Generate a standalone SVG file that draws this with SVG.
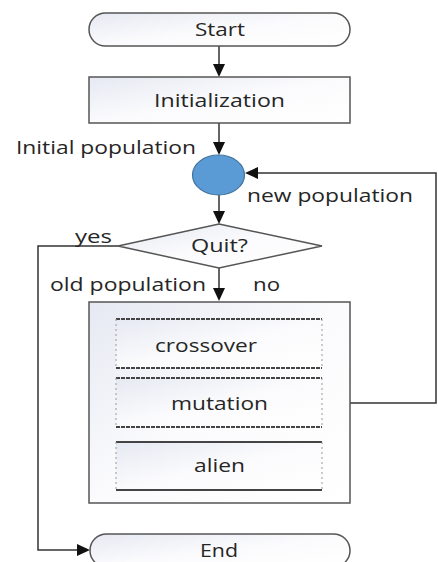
<svg xmlns="http://www.w3.org/2000/svg" width="438" height="562" viewBox="0 0 438 562">
<style>
text{font-family:"Open Sans","Noto Sans",sans-serif;font-size:18px;fill:#262626;}
.c{text-anchor:middle;dominant-baseline:central;}
.shape{stroke:#555;stroke-width:1.5;fill:url(#g);}
.ln{stroke:#333;stroke-width:1.5;fill:none;}
.ah{fill:#111;}
.tb{stroke:#444;stroke-width:2;stroke-dasharray:4 1;}
.sd{stroke:#999;stroke-width:1;stroke-dasharray:2 3;}
</style>
<defs>
<linearGradient id="g" x1="0" y1="0" x2="1" y2="1">
<stop offset="0" stop-color="#e6e9f2"/>
<stop offset="0.5" stop-color="#fbfbfd"/>
<stop offset="1" stop-color="#ffffff"/>
</linearGradient>
<path id="ad" class="ah" d="M-6,-13 L6,-13 L0,0 z"/>
<path id="ar" class="ah" d="M-13,-6 L-13,6 L0,0 z"/>
<path id="al" class="ah" d="M13,-6 L13,6 L0,0 z"/>
</defs>
<g id="connectors">
<line class="ln" x1="219" y1="46" x2="219" y2="66"/>
<use href="#ad" x="219" y="77"/>
<line class="ln" x1="219" y1="123" x2="219" y2="144"/>
<use href="#ad" x="219" y="155"/>
<line class="ln" x1="219" y1="195" x2="219" y2="213"/>
<use href="#ad" x="219" y="224"/>
<line class="ln" x1="219" y1="268" x2="219" y2="290"/>
<use href="#ad" x="219" y="301"/>
<polyline class="ln" points="118,246 38,246 38,550 78,550"/>
<use href="#ar" x="90" y="550"/>
<polyline class="ln" points="350,403 436,403 436,173 256,173"/>
<use href="#al" x="245" y="173"/>
</g>
<g id="start">
<rect class="shape" x="89" y="13" width="261" height="33" rx="16.5"/>
<text class="c" x="220" y="29" textLength="50" lengthAdjust="spacingAndGlyphs">Start</text>
</g>
<g id="init">
<rect class="shape" x="89" y="77" width="261" height="46"/>
<text class="c" x="219.5" y="100" textLength="131" lengthAdjust="spacingAndGlyphs">Initialization</text>
</g>
<g id="pop">
<ellipse cx="218.5" cy="175" rx="26" ry="20" fill="#5b9bd5" stroke="#41719c" stroke-width="1.2"/>
</g>
<g id="quit">
<polygon class="shape" points="219,224 322,246 219,268 118,246"/>
<text class="c" x="219.5" y="245" textLength="57" lengthAdjust="spacingAndGlyphs">Quit?</text>
</g>
<g id="ops">
<rect class="shape" x="89" y="302" width="261" height="201"/>
<g id="crossover">
<rect x="116" y="319" width="206" height="49" fill="url(#g)"/>
<line class="tb" x1="116" y1="319" x2="322" y2="319"/><line class="tb" x1="116" y1="368" x2="322" y2="368"/>
<line class="sd" x1="116" y1="319" x2="116" y2="368"/><line class="sd" x1="322" y1="319" x2="322" y2="368"/>
<text class="c" x="206" y="345" textLength="102" lengthAdjust="spacingAndGlyphs">crossover</text>
</g>
<g id="mutation">
<rect x="116" y="378" width="206" height="49" fill="url(#g)"/>
<line class="tb" x1="116" y1="378" x2="322" y2="378"/><line class="tb" x1="116" y1="427" x2="322" y2="427"/>
<line class="sd" x1="116" y1="378" x2="116" y2="427"/><line class="sd" x1="322" y1="378" x2="322" y2="427"/>
<text class="c" x="219.5" y="403" textLength="97" lengthAdjust="spacingAndGlyphs">mutation</text>
</g>
<g id="alien">
<rect x="116" y="442" width="206" height="48" fill="url(#g)"/>
<line class="tb" x1="116" y1="442" x2="322" y2="442" style="stroke-dasharray:none"/><line class="tb" x1="116" y1="490" x2="322" y2="490" style="stroke-dasharray:none"/>
<line class="sd" x1="116" y1="442" x2="116" y2="490"/><line class="sd" x1="322" y1="442" x2="322" y2="490"/>
<text class="c" x="219.5" y="465" textLength="51" lengthAdjust="spacingAndGlyphs">alien</text>
</g>
</g>
<g id="end">
<rect class="shape" x="90" y="534" width="260" height="33" rx="16.5"/>
<text class="c" x="219" y="550" textLength="38" lengthAdjust="spacingAndGlyphs">End</text>
</g>
<g id="labels">
<text x="16" y="154" textLength="180" lengthAdjust="spacingAndGlyphs">Initial population</text>
<text x="247" y="202" textLength="166" lengthAdjust="spacingAndGlyphs">new population</text>
<text x="75" y="243" textLength="37" lengthAdjust="spacingAndGlyphs">yes</text>
<text x="50" y="291" textLength="156" lengthAdjust="spacingAndGlyphs">old population</text>
<text x="253" y="291" textLength="27" lengthAdjust="spacingAndGlyphs">no</text>
</g>
</svg>
